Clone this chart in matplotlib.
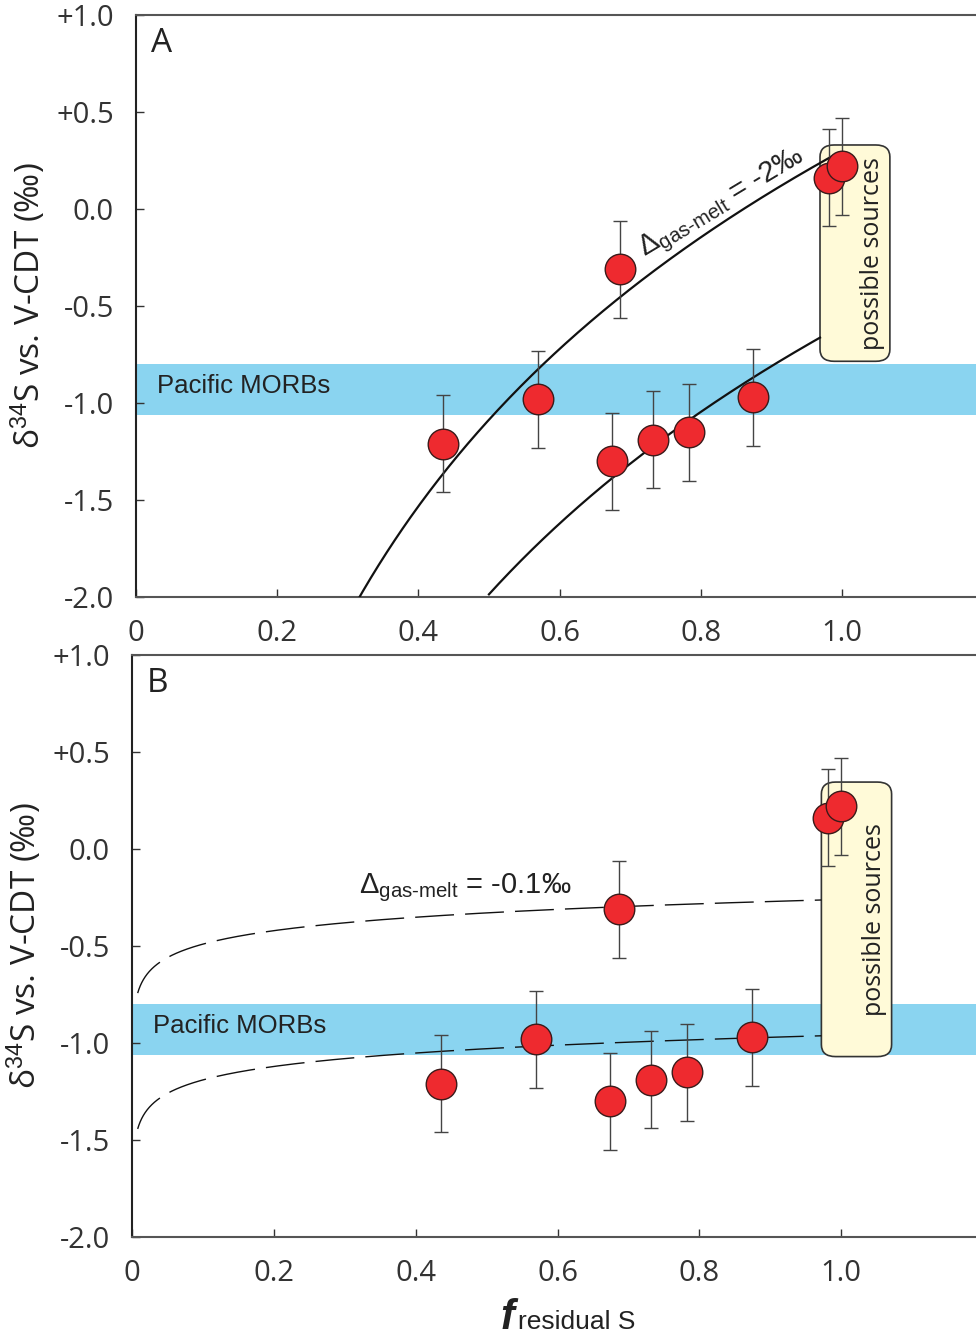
import numpy as np
import matplotlib
matplotlib.use("Agg")
import matplotlib.pyplot as plt
from matplotlib.patches import FancyBboxPatch

plt.rcParams['font.family'] = ['Open Sans', 'DejaVu Sans']
plt.rcParams['mathtext.fontset'] = 'custom'
plt.rcParams['mathtext.rm'] = 'Liberation Sans'
plt.rcParams['mathtext.it'] = 'Liberation Sans:italic'

# sample data: residual S fraction vs d34S (per mil)
f_res = [0.435, 0.569, 0.686, 0.674, 0.732, 0.783, 0.874, 0.982, 1.0]
d34s = [-1.21, -0.98, -0.31, -1.30, -1.19, -1.15, -0.97, 0.16, 0.22]
d34s_err = [0.25, 0.25, 0.25, 0.25, 0.25, 0.25, 0.25, 0.25, 0.25]

morb_lo, morb_hi = -1.06, -0.80
yticks = [1.0, 0.5, 0.0, -0.5, -1.0, -1.5, -2.0]
yticklabels = ['+1.0', '+0.5', '0.0', '-0.5', '-1.0', '-1.5', '-2.0']
xticks = [0, 0.2, 0.4, 0.6, 0.8, 1.0]
xticklabels = ['0', '0.2', '0.4', '0.6', '0.8', '1.0']

# Rayleigh curves d = d0 + D*ln(f)
delta_A = 2.0
d0_A = [0.30, -0.60]
frange_A = [(0.31, 0.985), (0.50, 0.969)]
delta_B = 0.1
d0_B = [-0.26, -0.96]
frange_B = [(0.008, 0.972), (0.008, 0.972)]

# source box (x0, x1, y0, y1)
box_A = (0.969, 1.068, -0.785, 0.33)
box_B = (0.972, 1.071, -1.07, 0.345)

fig = plt.figure(figsize=(9.76, 13.36), dpi=100)
axA = fig.add_axes([136/976, 1-597/1336, 1-136/976, 582/1336])
axB = fig.add_axes([132/976, 1-1237/1336, 1-132/976, 582/1336])

def setup(ax, letter):
    ax.set_xlim(0, 1.19)
    ax.set_ylim(-2.0, 1.0)
    ax.set_yticks(yticks)
    ax.set_yticklabels(yticklabels)
    ax.set_xticks(xticks)
    ax.set_xticklabels(xticklabels)
    ax.tick_params(direction='in', length=6, width=1, labelsize=21,
                   labelcolor='#333333', color='#333333', pad=16)
    ax.spines['right'].set_visible(False)
    ax.spines['left'].set_linewidth(1.5)
    ax.spines['left'].set_color('#222222')
    for s in ['top', 'bottom']:
        ax.spines[s].set_linewidth(1.5)
        ax.spines[s].set_color('#555555')
    ax.axhspan(morb_lo, morb_hi, color='#8AD4F0', lw=0, zorder=0)
    ax.text(0.03, (morb_lo + morb_hi) / 2 + 0.02, 'Pacific MORBs', family='Liberation Sans',
            fontsize=18.5, color='#222222', va='center', ha='left', zorder=1)
    ax.text(0.018, 0.98, letter, transform=ax.transAxes, fontsize=24,
            color='#222222', va='top', ha='left')
    ax.set_ylabel('δ$^{34}$S vs. V-CDT (‰)', fontsize=24, color='#222222', labelpad=6)

def draw_box(ax, b):
    x0, x1, y0, y1 = b
    patch = FancyBboxPatch((x0, y0), x1 - x0, y1 - y0,
                           boxstyle='round,pad=0,rounding_size=0.02',
                           mutation_aspect=706 / 193.5 / 1.19,
                           fc='#FFFAD8', ec='#333333', lw=1.2, zorder=2)
    ax.add_patch(patch)
    ax.text(x0 + 0.075, (y0 + y1) / 2, 'possible sources', rotation=90,
            fontsize=18, color='#222222', ha='center', va='center', zorder=3)

def draw_points(ax):
    ax.errorbar(f_res, d34s, yerr=d34s_err, fmt='none', ecolor='#444444',
                elinewidth=1, capsize=5, capthick=1, zorder=4)
    ax.plot(f_res, d34s, 'o', ms=22, mfc='#EE2A2F', mec='#3a1a1a', mew=1, zorder=5)

setup(axA, 'A')
draw_box(axA, box_A)
for d0, (fa, fb) in zip(d0_A, frange_A):
    f = np.linspace(fa, fb, 300)
    axA.plot(f, d0 + delta_A * np.log(f), color='#111111', lw=1.6, zorder=3)
draw_points(axA)
axA.text(0.83, 0.03, r'$\Delta_{\text{gas-melt}}$ = -2‰', rotation=31,
         family='Liberation Sans', fontsize=21, color='#222222',
         ha='center', va='center', rotation_mode='anchor', zorder=3)

setup(axB, 'B')
draw_box(axB, box_B)
for d0, (fa, fb) in zip(d0_B, frange_B):
    f = np.geomspace(fa, fb, 400)
    axB.plot(f, d0 + delta_B * np.log(f), color='#111111', lw=1,
             dashes=(28, 8), zorder=3)
draw_points(axB)
axB.text(0.32, -0.2, r'$\Delta_{\text{gas-melt}}$ = -0.1‰',
         family='Liberation Sans', fontsize=21, color='#222222',
         ha='left', va='center', zorder=3)

fig.text(507/976, 1-1318/1336, 'f', fontsize=30, style='italic', weight='bold',
         color='#222222', ha='center', va='center', family='Liberation Sans')
fig.text(518/976, 1-1322/1336, 'residual S', fontsize=19, color='#222222',
         ha='left', va='center', family='Liberation Sans')

fig.savefig('out.png', dpi=100)
